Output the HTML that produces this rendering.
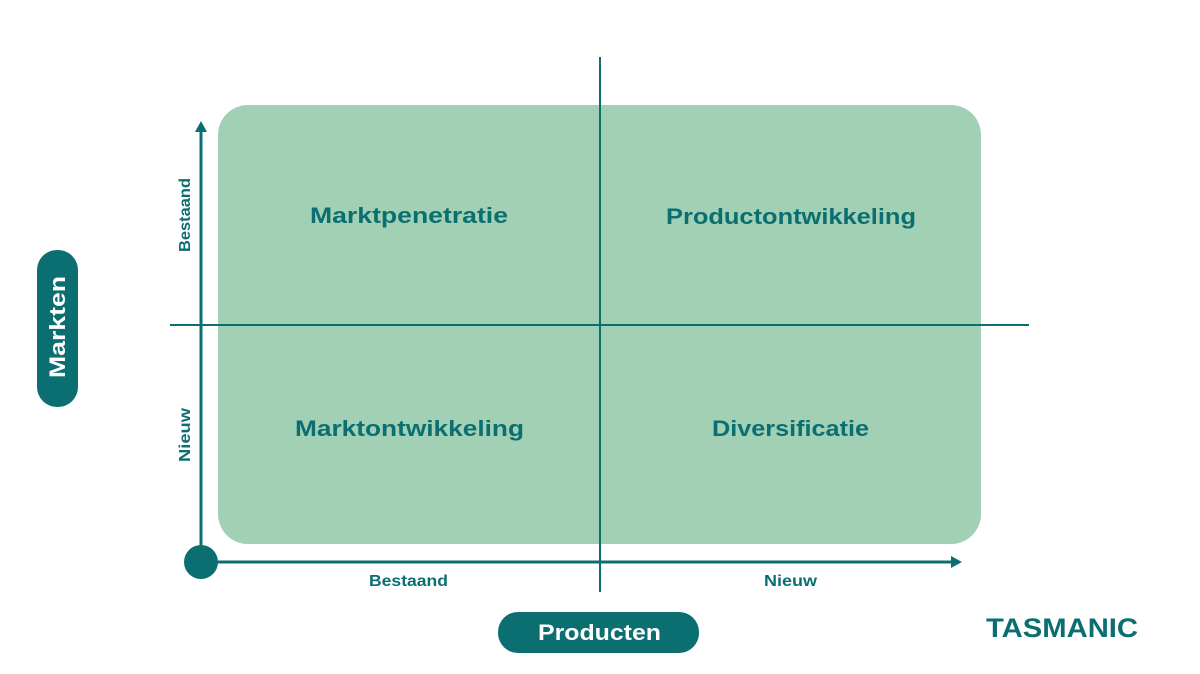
<!DOCTYPE html>
<html><head><meta charset="utf-8"><style>
html,body{margin:0;padding:0;background:#fff;}
svg{display:block;}
text{font-family:"Liberation Sans",sans-serif;font-weight:bold;fill:#0b6f72;}
</style></head><body>
<svg width="1200" height="674" viewBox="0 0 1200 674" xmlns="http://www.w3.org/2000/svg">
<rect x="218" y="105" width="763" height="439" rx="30" fill="#a1d0b4"/>
<line x1="600" y1="57" x2="600" y2="592" stroke="#0b6f72" stroke-width="2"/>
<line x1="170" y1="325" x2="1029" y2="325" stroke="#0b6f72" stroke-width="2"/>
<line x1="201" y1="562" x2="201" y2="130" stroke="#0b6f72" stroke-width="3"/>
<polygon points="201,121 195,132 207,132" fill="#0b6f72"/>
<line x1="201" y1="562" x2="952" y2="562" stroke="#0b6f72" stroke-width="3"/>
<polygon points="962,562 951,556 951,568" fill="#0b6f72"/>
<circle cx="201" cy="562" r="17" fill="#0b6f72"/>
<text x="310" y="223" font-size="22" textLength="198" lengthAdjust="spacingAndGlyphs">Marktpenetratie</text>
<text x="666" y="224" font-size="22" textLength="250" lengthAdjust="spacingAndGlyphs">Productontwikkeling</text>
<text x="295" y="436" font-size="22" textLength="229" lengthAdjust="spacingAndGlyphs">Marktontwikkeling</text>
<text x="712" y="436" font-size="22" textLength="157" lengthAdjust="spacingAndGlyphs">Diversificatie</text>
<text x="369" y="586" font-size="16" textLength="79" lengthAdjust="spacingAndGlyphs">Bestaand</text>
<text x="764" y="586" font-size="16" textLength="53" lengthAdjust="spacingAndGlyphs">Nieuw</text>
<text transform="translate(190,252) rotate(-90)" font-size="16" textLength="74" lengthAdjust="spacingAndGlyphs">Bestaand</text>
<text transform="translate(190,462) rotate(-90)" font-size="16" textLength="54" lengthAdjust="spacingAndGlyphs">Nieuw</text>
<rect x="37" y="250" width="41" height="157" rx="20" fill="#0b6f72"/>
<text transform="translate(65,378) rotate(-90)" font-size="22" textLength="102" lengthAdjust="spacingAndGlyphs" style="fill:#fff">Markten</text>
<rect x="498" y="612" width="201" height="41" rx="20" fill="#0b6f72"/>
<text x="538" y="640" font-size="22" textLength="123" lengthAdjust="spacingAndGlyphs" style="fill:#fff">Producten</text>
<text x="986" y="637" font-size="27" textLength="152" lengthAdjust="spacingAndGlyphs">TASMANIC</text>
</svg>
</body></html>
